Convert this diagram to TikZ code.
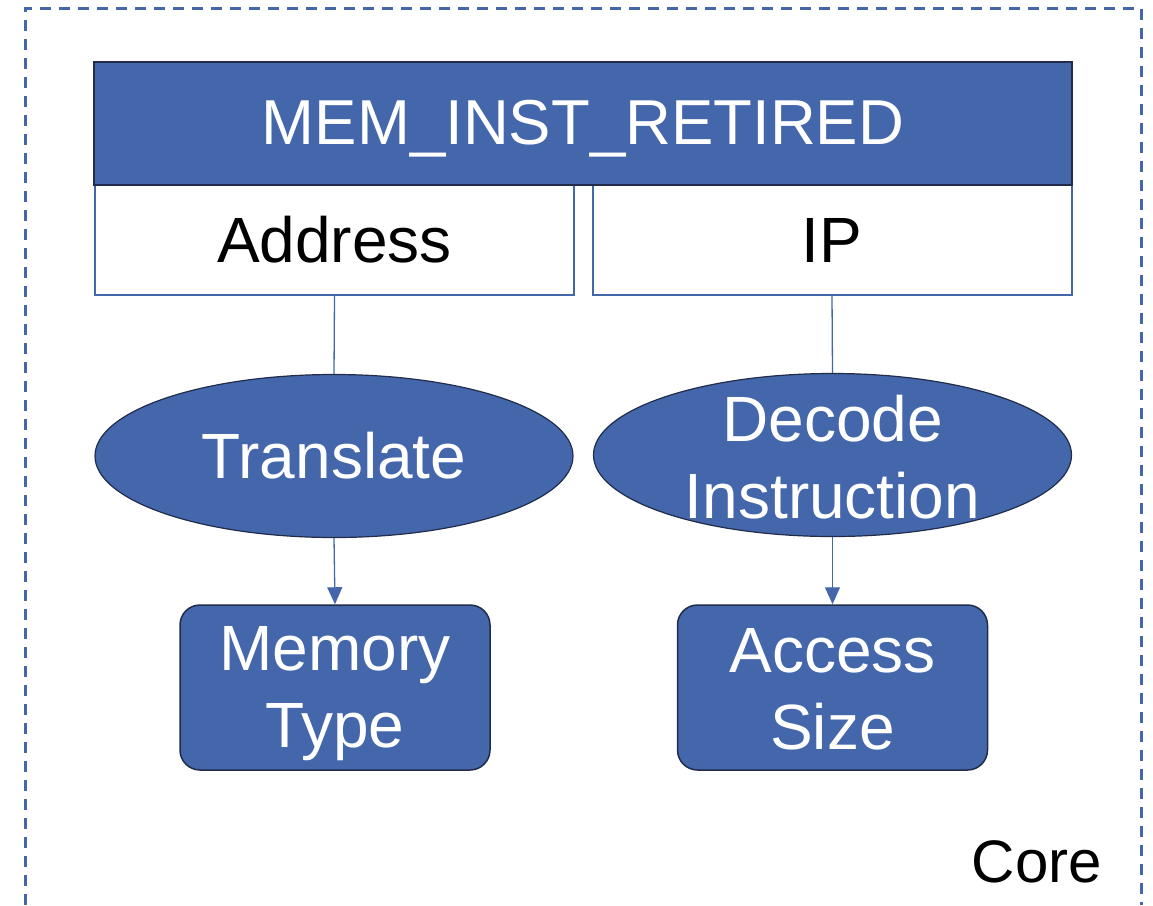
\documentclass[tikz,border=0pt]{standalone}
\usepackage{fontspec}
\setmainfont{Liberation Sans}
\usetikzlibrary{shapes.geometric,arrows.meta}
\definecolor{boxblue}{RGB}{68,102,171}
\definecolor{edgedark}{RGB}{32,44,74}
\tikzset{
  big/.style={font=\fontsize{64}{77}\selectfont},
  header/.style={draw=edgedark, line width=2.5pt, fill=boxblue, inner sep=0pt,
    minimum width=978pt, minimum height=123pt},
  headtext/.style={text=white, font=\fontsize{63.5}{76}\selectfont},
  fieldbox/.style={draw=boxblue, line width=2pt, fill=white, text=black, inner sep=0pt,
    minimum width=479pt, minimum height=110pt, big},
  oval/.style={ellipse, draw=edgedark, line width=1.2pt, fill=boxblue, inner sep=0pt,
    minimum width=478pt, minimum height=163pt},
  resultbox/.style={rounded corners=20pt, draw=edgedark, line width=1.5pt, fill=boxblue,
    inner sep=0pt, minimum width=310pt, minimum height=165pt},
  inner/.style={text=white, align=center, big},
  link/.style={draw=boxblue, line width=1.3pt},
  flow/.style={link, -{Triangle[length=17pt,width=15pt]}},
  frame/.style={draw=boxblue, line width=3pt, dash pattern=on 11pt off 8pt}
}
\begin{document}
\begin{tikzpicture}[x=1pt,y=-1pt]
\useasboundingbox (0,0) rectangle (1153,905);
% dashed outline of the core
\draw[frame] (25,905) -- (25,8) -- (1141,8) -- (1141,905);
\node[font=\fontsize{60}{70}\selectfont] (core) at (1037,862) {Core};

% event header and its two fields
\node[fieldbox] (addr) at (334.5,240) {Address};
\node[fieldbox] (ip) at (832,240) {IP};
\node[header, label={[headtext, yshift=-5pt]center:MEM\_INST\_RETIRED}] (event) at (583,123.5) {};

% processing steps
\node[oval, label={[inner]center:Translate}] (translate) at (334,456) {};
\node[oval, label={[inner, yshift=-2pt]center:Decode\\Instruction}] (decode) at (832.5,455) {};

% results
\node[resultbox, label={[inner, yshift=-6pt]center:Memory\\Type}] (memtype) at (335,687.5) {};
\node[resultbox, label={[inner, yshift=-2pt]center:Access\\Size}] (accsize) at (832.5,687.5) {};

% connectors
\draw[link] (addr.south) -- (translate.north);
\draw[link] (ip.south) -- (decode.north);
\draw[flow] (translate.south) -- (memtype.north);
\draw[flow] (decode.south) -- (accsize.north);
\end{tikzpicture}
\end{document}
